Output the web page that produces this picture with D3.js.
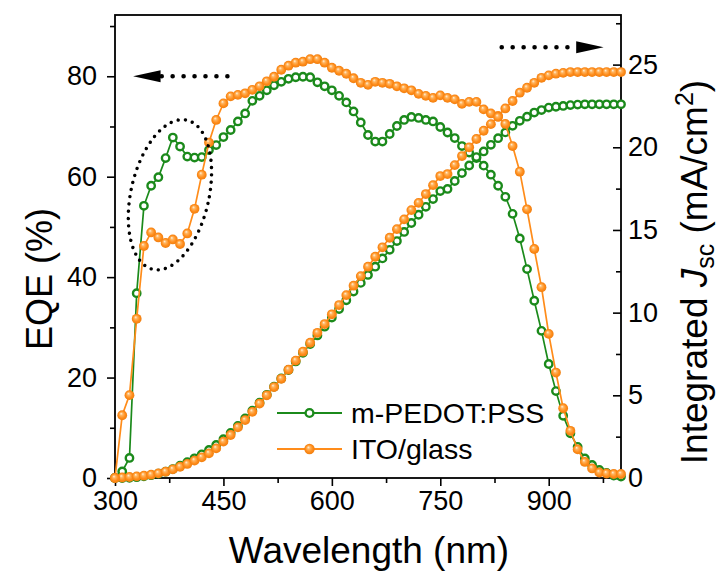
<!DOCTYPE html>
<html>
<head>
<meta charset="utf-8">
<script src="https://cdn.jsdelivr.net/npm/d3@7/dist/d3.min.js"></script>
<style>
  html, body { margin: 0; padding: 0; background: #fff; }
  svg { display: block; font-family: "Liberation Sans", Arial, Helvetica, sans-serif; }
</style>
</head>
<body>
<svg id="chart" width="723" height="581"></svg>
<script>
// Wavelength grid (nm)
const wavelength = [300,310,320,330,340,350,360,370,380,390,400,410,420,430,440,450,460,470,480,490,
  500,510,520,530,540,550,560,570,580,590,600,610,620,630,640,650,660,670,680,690,
  700,710,720,730,740,750,760,770,780,790,800,810,820,830,840,850,860,870,880,890,
  900,910,920,930,940,950,960,970,980,990,1000];

// EQE (%) — m-PEDOT:PSS electrode
const eqePedot = [0,1.3,4.0,36.8,54.2,58.2,59.9,63.7,67.8,66.0,64.0,63.8,63.9,65.3,66.3,67.9,69.3,71.0,72.6,75.1,
  76.1,77.2,78.2,78.9,79.5,79.8,79.9,79.8,78.8,78.0,77.2,76.1,74.8,73.0,70.8,68.3,67.0,67.0,68.5,70.1,
  71.3,71.9,71.7,71.3,71.0,69.9,68.8,67.7,66.1,64.8,63.9,62.2,60.4,58.2,56.0,52.6,47.7,41.6,35.3,29.3,
  22.7,17.3,12.4,8.9,6.2,3.9,2.6,1.6,1.0,0.5,0.3];

// EQE (%) — ITO/glass electrode
const eqeIto = [0,12.5,16.5,31.7,46.2,48.9,47.9,46.8,47.5,46.6,48.7,53.6,60.4,66.8,71.3,74.6,76.0,76.3,76.6,77.3,
  78.0,79.0,79.9,81.3,82.1,82.7,82.9,83.4,83.4,82.7,81.7,81.1,80.5,79.6,78.7,78.3,78.9,78.7,78.5,78.0,
  77.6,77.2,76.5,76.1,75.7,76.2,75.7,75.4,74.5,74.9,74.9,73.4,72.6,71.9,70.5,66.1,61.0,53.5,45.6,38.0,
  28.7,21.0,13.9,9.4,5.7,3.2,1.9,1.1,0.9,0.8,0.8];

// Integrated Jsc (mA/cm^2) — m-PEDOT:PSS electrode
const jscPedot = [0,0.0,0.01,0.05,0.1,0.17,0.26,0.38,0.54,0.74,0.96,1.19,1.43,1.7,2.0,2.35,2.73,3.15,3.6,4.07,
  4.55,5.03,5.52,6.02,6.53,7.05,7.57,8.1,8.62,9.15,9.7,10.22,10.75,11.28,11.8,12.28,12.78,13.28,13.8,14.33,
  14.88,15.42,15.92,16.4,16.87,17.35,17.48,17.96,18.44,18.9,19.35,19.75,20.15,20.55,20.9,21.3,21.6,21.85,22.1,22.25,
  22.4,22.45,22.5,22.55,22.58,22.6,22.6,22.6,22.6,22.6,22.6];

// Integrated Jsc (mA/cm^2) — ITO/glass electrode
const jscIto = [0,0.03,0.06,0.1,0.14,0.2,0.28,0.38,0.52,0.68,0.85,1.05,1.25,1.49,1.79,2.2,2.6,3.06,3.5,4.0,
  4.5,5.0,5.5,6.0,6.55,7.1,7.64,8.18,8.78,9.31,9.9,10.46,11.06,11.63,12.21,12.78,13.38,13.95,14.53,15.05,
  15.64,16.2,16.64,17.17,17.71,18.26,18.38,18.92,19.47,20.0,20.5,21.0,21.4,21.9,22.35,22.8,23.3,23.6,23.9,24.2,
  24.35,24.45,24.5,24.55,24.55,24.55,24.55,24.55,24.55,24.55,24.55];

// Axis ticks
const xTicks = [300, 450, 600, 750, 900];
const xMinorTicks = [375, 525, 675, 825, 975];
const eqeTicks = [0, 20, 40, 60, 80];
const eqeMinorTicks = [10, 30, 50, 70, 90];
const jscTicks = [0, 5, 10, 15, 20, 25];
const jscMinorTicks = [2.5, 7.5, 12.5, 17.5, 22.5, 27.5];

const seriesNames = ["m-PEDOT:PSS", "ITO/glass"];
const GREEN = "#1b8a1b";
const ORANGE = "#ff8c1a";

const plotLeft = 115, plotRight = 621, plotTop = 15, plotBottom = 478;
const x = d3.scaleLinear().domain([300, 1000]).range([plotLeft, plotRight]);
const yL = d3.scaleLinear().domain([0, 92.2]).range([plotBottom, plotTop]);
const yR = d3.scaleLinear().domain([0, 28]).range([plotBottom, plotTop]);

const svg = d3.select("#chart");

// Shaded sphere look for the filled orange markers
const defs = svg.append("defs");
const grad = defs.append("radialGradient").attr("id", "ball")
  .attr("cx", "0.5").attr("cy", "0.5").attr("r", "0.5")
  .attr("fx", "0.38").attr("fy", "0.32");
grad.append("stop").attr("offset", "0").attr("stop-color", "#fff3e0");
grad.append("stop").attr("offset", "0.3").attr("stop-color", "#ffb45e");
grad.append("stop").attr("offset", "0.7").attr("stop-color", ORANGE);
grad.append("stop").attr("offset", "1").attr("stop-color", "#f07f10");

const TICK_FONT = 27;

function styleAxis(g) {
  g.select(".domain").remove();
  g.selectAll(".tick line").attr("stroke", "#000").attr("stroke-width", 1.6);
  g.selectAll(".tick text").attr("font-size", TICK_FONT).attr("fill", "#000")
    .attr("font-family", '"Liberation Sans", Arial, sans-serif');
}

// Bottom axis
svg.append("g").attr("transform", `translate(0,${plotBottom})`)
  .call(d3.axisBottom(x).tickValues(xTicks).tickSize(8).tickSizeOuter(0).tickPadding(5).tickFormat(d3.format("d")))
  .call(styleAxis);
svg.append("g").attr("transform", `translate(0,${plotBottom})`)
  .call(d3.axisBottom(x).tickValues(xMinorTicks).tickSize(5).tickSizeOuter(0).tickFormat(""))
  .call(styleAxis);

// Left axis (EQE)
svg.append("g").attr("transform", `translate(${plotLeft},0)`)
  .call(d3.axisLeft(yL).tickValues(eqeTicks).tickSize(8).tickSizeOuter(0).tickPadding(10).tickFormat(d3.format("d")))
  .call(styleAxis);
svg.append("g").attr("transform", `translate(${plotLeft},0)`)
  .call(d3.axisLeft(yL).tickValues(eqeMinorTicks).tickSize(5).tickSizeOuter(0).tickFormat(""))
  .call(styleAxis);

// Right axis (integrated Jsc), ticks pointing inward
svg.append("g").attr("transform", `translate(${plotRight},0)`)
  .call(d3.axisRight(yR).tickValues(jscTicks).tickSize(-8).tickSizeOuter(0).tickPadding(7).tickFormat(d3.format("d")))
  .call(styleAxis);
svg.append("g").attr("transform", `translate(${plotRight},0)`)
  .call(d3.axisRight(yR).tickValues(jscMinorTicks).tickSize(-5).tickSizeOuter(0).tickFormat(""))
  .call(styleAxis);

// Frame
svg.append("rect").attr("x", plotLeft).attr("y", plotTop)
  .attr("width", plotRight - plotLeft).attr("height", plotBottom - plotTop)
  .attr("fill", "none").attr("stroke", "#000").attr("stroke-width", 1.8);

// Data
const pedotEqe = wavelength.map((w, i) => [w, eqePedot[i]]);
const itoEqe = wavelength.map((w, i) => [w, eqeIto[i]]);
const pedotJsc = wavelength.map((w, i) => [w, jscPedot[i]]);
const itoJsc = wavelength.map((w, i) => [w, jscIto[i]]);

const lineL = d3.line().x(d => x(d[0])).y(d => yL(d[1]));
const lineR = d3.line().x(d => x(d[0])).y(d => yR(d[1]));

const plot = svg.append("g");

function drawOpen(data, line, yScale) {
  plot.append("path").datum(data).attr("d", line)
    .attr("fill", "none").attr("stroke", GREEN).attr("stroke-width", 1.7);
  plot.append("g").selectAll("circle").data(data).join("circle")
    .attr("cx", d => x(d[0])).attr("cy", d => yScale(d[1])).attr("r", 3.7)
    .attr("fill", "#fff").attr("stroke", GREEN).attr("stroke-width", 2.4);
}
function drawBall(data, line, yScale) {
  plot.append("path").datum(data).attr("d", line)
    .attr("fill", "none").attr("stroke", ORANGE).attr("stroke-width", 1.7);
  plot.append("g").selectAll("circle").data(data).join("circle")
    .attr("cx", d => x(d[0])).attr("cy", d => yScale(d[1])).attr("r", 4.9)
    .attr("fill", "url(#ball)");
}

drawOpen(pedotJsc, lineR, yR);
drawOpen(pedotEqe, lineL, yL);
drawBall(itoJsc, lineR, yR);
drawBall(itoEqe, lineL, yL);

// Dotted ellipse around the short-wavelength feature
svg.append("ellipse")
  .attr("cx", 0).attr("cy", 0).attr("rx", 39).attr("ry", 76.5)
  .attr("transform", `translate(${x(376)},${yL(56.4)}) rotate(12.8)`)
  .attr("fill", "none").attr("stroke", "#000").attr("stroke-width", 3.4)
  .attr("stroke-linecap", "round").attr("stroke-dasharray", "0 7.3");

// Direction arrows: left arrow points to the EQE axis, right arrow to the Jsc axis
function dottedLine(x0, x1, y) {
  svg.append("line").attr("x1", x0).attr("x2", x1).attr("y1", y).attr("y2", y)
    .attr("stroke", "#000").attr("stroke-width", 4.6).attr("stroke-linecap", "round")
    .attr("stroke-dasharray", "0 10.95");
}
const arrowY1 = yL(80);
dottedLine(x(364.6), x(470.6), arrowY1);
svg.append("path")
  .attr("d", `M${x(325)},${arrowY1} L${x(363)},${arrowY1 - 6} L${x(363)},${arrowY1 + 6} Z`)
  .attr("fill", "#000");

const arrowY2 = yR(26.05);
dottedLine(x(835), x(929.5), arrowY2);
svg.append("path")
  .attr("d", `M${x(976)},${arrowY2} L${x(938)},${arrowY2 - 6} L${x(938)},${arrowY2 + 6} Z`)
  .attr("fill", "#000");

// Legend
const legend = svg.append("g");
const legY = [413, 449];
[GREEN, ORANGE].forEach((c, i) => {
  const g = legend.append("g").attr("transform", `translate(0,${legY[i]})`);
  g.append("line").attr("x1", 277).attr("x2", 342).attr("y1", 0).attr("y2", 0)
    .attr("stroke", c).attr("stroke-width", 1.9);
  if (i === 0) {
    g.append("circle").attr("cx", 309.5).attr("cy", 0).attr("r", 3.9)
      .attr("fill", "#fff").attr("stroke", GREEN).attr("stroke-width", 2.4);
  } else {
    g.append("circle").attr("cx", 309.5).attr("cy", 0).attr("r", 5.2).attr("fill", "url(#ball)");
  }
  g.append("text").attr("x", 351).attr("y", 0).attr("dy", "0.36em")
    .attr("font-size", 28.5).attr("fill", "#000").text(seriesNames[i]);
});

// Axis titles
svg.append("text").attr("x", 369).attr("y", 563).attr("text-anchor", "middle")
  .attr("font-size", 37).attr("fill", "#000").text("Wavelength (nm)");

svg.append("text").attr("transform", "translate(52,279) rotate(-90)")
  .attr("text-anchor", "middle").attr("font-size", 36).attr("fill", "#000").text("EQE (%)");

const rt = svg.append("text").attr("transform", "translate(707,272) rotate(-90)")
  .attr("text-anchor", "middle").attr("font-size", 37).attr("fill", "#000");
rt.append("tspan").text("Integrated ");
rt.append("tspan").attr("font-style", "italic").text("J");
rt.append("tspan").attr("font-size", 25).attr("dy", 7).text("sc");
rt.append("tspan").attr("dy", -7).text(" (mA/cm");
rt.append("tspan").attr("font-size", 25).attr("dy", -14).text("2");
rt.append("tspan").attr("dy", 14).text(")");
</script>
</body>
</html>
